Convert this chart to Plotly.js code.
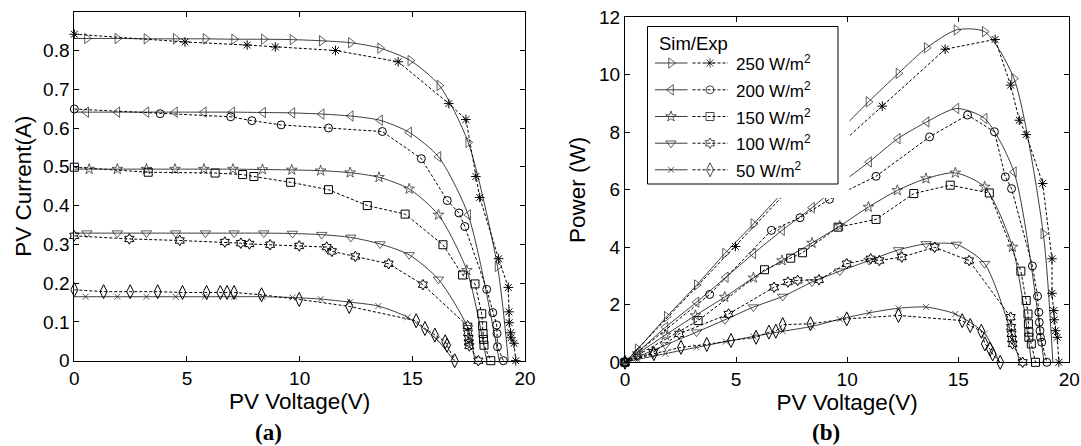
<!DOCTYPE html>
<html><head><meta charset="utf-8">
<script src="https://cdn.plot.ly/plotly-3.0.1.min.js"></script>
<style>html,body{margin:0;padding:0;background:#fff}#chart{width:1081px;height:446px}</style>
</head><body><div id="chart"></div>
<script>
// ---------- (a) I-V data ----------
const sim250_v = [0, 0.56, 1.91, 3.20, 4.50, 5.82, 7.09, 8.41, 9.68, 10.98, 12.27, 13.57, 14.91, 16.20, 17.48, 18.78, 19.26];
const sim250_i = [0.831, 0.831, 0.831, 0.830, 0.830, 0.830, 0.829, 0.829, 0.828, 0.825, 0.820, 0.806, 0.774, 0.710, 0.563, 0.243, 0];
const exp250_v = [0, 4.91, 7.67, 8.92, 11.59, 14.37, 16.62, 17.38, 17.82, 17.99, 18.83, 19.26, 19.29, 19.30, 19.36, 19.38, 19.51, 19.59];
const exp250_i = [0.842, 0.822, 0.814, 0.809, 0.800, 0.771, 0.663, 0.622, 0.475, 0.421, 0.263, 0.189, 0.126, 0.098, 0.072, 0.059, 0.045, 0];

const sim200_v = [0, 0.53, 1.91, 3.20, 4.47, 5.75, 7.01, 8.38, 9.68, 10.98, 12.27, 13.57, 14.86, 16.16, 17.48, 18.86];
const sim200_i = [0.641, 0.641, 0.641, 0.641, 0.641, 0.641, 0.641, 0.640, 0.639, 0.636, 0.631, 0.620, 0.589, 0.526, 0.376, 0];
const exp200_v = [0, 3.81, 6.94, 7.88, 9.18, 11.28, 13.67, 15.40, 16.55, 17.07, 17.33, 18.30, 18.57, 18.74, 18.76, 18.78, 19.04];
const exp200_i = [0.649, 0.637, 0.629, 0.619, 0.608, 0.600, 0.591, 0.521, 0.413, 0.381, 0.346, 0.184, 0.124, 0.092, 0.070, 0.036, 0];

const sim150_v = [0, 0.66, 1.91, 3.20, 4.47, 5.75, 7.04, 8.35, 9.65, 10.93, 12.24, 13.52, 14.86, 16.16, 17.42, 18.30];
const sim150_i = [0.494, 0.494, 0.494, 0.494, 0.494, 0.494, 0.494, 0.493, 0.492, 0.490, 0.485, 0.473, 0.443, 0.376, 0.233, 0];
const exp150_v = [0, 3.28, 6.25, 7.47, 7.97, 9.60, 11.28, 13.00, 14.68, 16.36, 17.23, 17.78, 18.08, 18.12, 18.14, 18.16, 18.18, 18.48];
const exp150_i = [0.499, 0.486, 0.484, 0.480, 0.475, 0.460, 0.441, 0.400, 0.378, 0.299, 0.221, 0.198, 0.121, 0.090, 0.070, 0.055, 0.040, 0];

const sim100_v = [0, 0.56, 1.91, 3.20, 4.50, 5.82, 7.09, 8.41, 9.68, 10.98, 12.27, 13.57, 14.86, 16.16, 17.46, 17.78];
const sim100_i = [0.329, 0.329, 0.329, 0.329, 0.329, 0.329, 0.329, 0.329, 0.328, 0.325, 0.318, 0.301, 0.273, 0.210, 0.085, 0];
const exp100_v = [0, 2.44, 4.68, 6.68, 7.39, 7.77, 8.69, 9.98, 11.20, 11.43, 12.47, 13.95, 15.47, 17.45, 17.47, 17.50, 17.51, 17.53, 17.93];
const exp100_i = [0.322, 0.314, 0.310, 0.306, 0.303, 0.301, 0.299, 0.296, 0.293, 0.282, 0.269, 0.250, 0.196, 0.090, 0.072, 0.058, 0.047, 0.038, 0];

const sim50_v = [0, 0.50, 1.91, 3.20, 4.50, 5.79, 7.09, 8.35, 9.68, 10.93, 12.24, 13.49, 14.79, 16.08, 16.85];
const sim50_i = [0.165, 0.165, 0.165, 0.165, 0.165, 0.165, 0.165, 0.165, 0.163, 0.159, 0.151, 0.141, 0.112, 0.055, 0];
const exp50_v = [0, 1.30, 2.48, 3.70, 4.80, 5.87, 6.48, 6.78, 7.09, 8.31, 9.98, 12.20, 15.17, 15.56, 16.00, 16.46, 16.54, 16.88];
const exp50_i = [0.183, 0.178, 0.178, 0.178, 0.176, 0.176, 0.176, 0.176, 0.176, 0.170, 0.158, 0.140, 0.103, 0.083, 0.066, 0.049, 0.040, 0];

// ---------- (b) P-V data ----------
const psim250_v = [0, 0.57, 1.88, 3.23, 4.50, 5.78, 7.09, 8.41, 9.68, 10.96, 12.31, 13.58, 14.92, 16.19, 17.51, 18.83, 19.26];
const psim250_p = [0, 0.46, 1.59, 2.69, 3.79, 4.81, 5.90, 7.00, 8.05, 9.06, 10.05, 10.94, 11.56, 11.50, 9.87, 4.47, 0];
const pexp250_v = [0, 4.97, 7.67, 8.92, 11.58, 14.41, 16.66, 17.36, 17.75, 18.06, 18.80, 19.22, 19.22, 19.30, 19.32, 19.38, 19.46, 19.53];
const pexp250_p = [0, 4.03, 6.25, 7.05, 8.91, 10.89, 11.23, 9.64, 8.42, 7.92, 6.22, 3.60, 2.40, 1.80, 1.48, 1.10, 0.87, 0];

const psim200_v = [0, 0.57, 1.82, 3.22, 4.54, 5.78, 7.07, 8.42, 9.68, 10.99, 12.28, 13.58, 14.92, 16.19, 17.51, 18.86];
const psim200_p = [0, 0.35, 1.22, 2.09, 2.96, 3.78, 4.59, 5.38, 6.20, 6.97, 7.78, 8.36, 8.83, 8.48, 6.62, 0];
const pexp200_v = [0, 3.81, 6.59, 7.88, 9.20, 11.30, 13.71, 15.42, 16.63, 17.12, 17.40, 18.34, 18.57, 18.63, 18.65, 18.68, 18.70, 18.76, 18.99];
const pexp200_p = [0, 2.36, 4.59, 5.03, 5.67, 6.47, 7.84, 8.60, 8.02, 6.45, 6.04, 3.35, 2.30, 1.74, 1.39, 1.10, 0.87, 0.70, 0];

const psim150_v = [0, 0.57, 1.82, 3.17, 4.49, 5.78, 7.07, 8.42, 9.67, 10.96, 12.26, 13.55, 14.87, 16.19, 17.44, 18.30];
const psim150_p = [0, 0.30, 0.95, 1.63, 2.27, 2.94, 3.54, 4.15, 4.74, 5.40, 5.98, 6.39, 6.59, 6.10, 4.01, 0];
const pexp150_v = [0, 3.29, 6.28, 7.46, 7.99, 9.59, 11.30, 13.00, 14.64, 16.40, 17.82, 18.06, 18.14, 18.16, 18.18, 18.18, 18.29, 18.48];
const pexp150_p = [0, 1.45, 3.22, 3.62, 3.81, 4.70, 4.97, 5.87, 6.16, 5.89, 3.17, 2.15, 1.68, 1.34, 1.05, 0.87, 0.64, 0];

const psim100_v = [0, 0.57, 1.82, 3.22, 4.50, 5.78, 7.10, 8.42, 9.67, 10.99, 12.31, 13.55, 14.92, 16.19, 17.78];
const psim100_p = [0, 0.19, 0.60, 1.05, 1.48, 1.92, 2.29, 2.79, 3.17, 3.54, 3.91, 4.12, 4.10, 3.43, 0];
const pexp100_v = [0, 1.27, 2.44, 4.66, 6.71, 7.33, 7.77, 8.73, 9.98, 11.06, 11.45, 12.46, 13.94, 15.49, 17.36, 17.38, 17.40, 17.42, 17.45, 17.90];
const pexp100_p = [0, 0.35, 0.99, 1.68, 2.61, 2.79, 2.85, 2.87, 3.43, 3.60, 3.54, 3.66, 4.00, 3.54, 1.57, 1.22, 0.99, 0.81, 0.64, 0];

const psim50_v = [0, 0.57, 1.82, 3.22, 4.54, 5.78, 7.10, 8.42, 9.67, 10.99, 12.31, 13.55, 14.87, 16.19, 16.85];
const psim50_p = [0, 0.10, 0.30, 0.52, 0.72, 0.90, 1.08, 1.25, 1.50, 1.72, 1.88, 1.92, 1.68, 1.00, 0];
const pexp50_v = [0, 1.30, 2.52, 3.68, 4.77, 5.90, 6.48, 6.79, 7.10, 8.35, 9.98, 12.31, 15.18, 15.54, 16.04, 16.20, 16.43, 16.55, 16.89];
const pexp50_p = [0, 0.30, 0.52, 0.62, 0.76, 0.87, 1.05, 1.08, 1.31, 1.34, 1.51, 1.63, 1.45, 1.28, 1.08, 0.64, 0.46, 0.29, 0];

// ---------- labels ----------
const irradiance = ['250 W/m<sup>2</sup>', '200 W/m<sup>2</sup>', '150 W/m<sup>2</sup>', '100 W/m<sup>2</sup>', '50 W/m<sup>2</sup>'];
const vTicks = [0, 5, 10, 15, 20];
const iTicks = [0, 0.1, 0.2, 0.3, 0.4, 0.5, 0.6, 0.7, 0.8];
const iTickText = ['0', '0.1', '0.2', '0.3', '0.4', '0.5', '0.6', '0.7', '0.8'];
const pTicks = [0, 2, 4, 6, 8, 10, 12];

// ---------- styling ----------
const W = 1081, H = 446;
const FONT = 'Liberation Sans, Arial, sans-serif';
const SIMC = '#3c3c3c', SIMM = '#1e1e1e', EXPC = '#000000';
const simSym = [['triangle-right-open', 9], ['triangle-left-open', 9], ['star-open', 8], ['triangle-down-open', 9], ['x-thin-open', 6]];
const expSym = [['asterisk-open', 8], ['circle-open', 8], ['square-open', 8], ['hexagram-open', 8], ['diamond-tall-open', 10]];

function simTrace(x, y, k, xa, ya) {
  const n = x.length;
  return {type: 'scatter', mode: 'lines+markers', x: x, y: y, xaxis: xa, yaxis: ya,
    line: {color: SIMC, width: 1, shape: 'spline', smoothing: 0.7},
    marker: {symbol: simSym[k][0], size: x.map((_, i) => (i === 0 || i === n - 1) ? 0 : simSym[k][1]), color: SIMM, line: {width: 1, color: SIMM}},
    cliponaxis: false, showlegend: false, hoverinfo: 'skip'};
}
function expTrace(x, y, k, xa, ya) {
  return {type: 'scatter', mode: 'lines+markers', x: x, y: y, xaxis: xa, yaxis: ya,
    line: {color: EXPC, width: 1, dash: '3px,2px'},
    marker: {symbol: expSym[k][0], size: expSym[k][1], color: EXPC, line: {width: 1, color: EXPC}},
    cliponaxis: false, showlegend: false, hoverinfo: 'skip'};
}

const simA = [[sim250_v, sim250_i], [sim200_v, sim200_i], [sim150_v, sim150_i], [sim100_v, sim100_i], [sim50_v, sim50_i]];
const expA = [[exp250_v, exp250_i], [exp200_v, exp200_i], [exp150_v, exp150_i], [exp100_v, exp100_i], [exp50_v, exp50_i]];
const simB = [[psim250_v, psim250_p], [psim200_v, psim200_p], [psim150_v, psim150_p], [psim100_v, psim100_p], [psim50_v, psim50_p]];
const expB = [[pexp250_v, pexp250_p], [pexp200_v, pexp200_p], [pexp150_v, pexp150_p], [pexp100_v, pexp100_p], [pexp50_v, pexp50_p]];

const traces = [];
for (let k = 0; k < 5; k++) {
  traces.push(simTrace(simA[k][0], simA[k][1], k, 'x', 'y'));
  traces.push(expTrace(expA[k][0], expA[k][1], k, 'x', 'y'));
  traces.push(simTrace(simB[k][0], simB[k][1], k, 'x2', 'y2'));
  traces.push(expTrace(expB[k][0], expB[k][1], k, 'x2', 'y2'));
}

// legend drawn in a pixel-scaled overlay subplot (x3/y3)
const LX0 = 640, LX1 = 852, LY0 = 20, LY1 = 200;
const rowY = [63, 89.8, 116.5, 143.2, 169.8];
const annotations = [];
for (let k = 0; k < 5; k++) {
  const ry = rowY[k];
  traces.push({type: 'scatter', mode: 'lines+markers', x: [655, 671, 687.5], y: [ry, ry, ry], xaxis: 'x3', yaxis: 'y3',
    line: {color: SIMC, width: 1}, marker: {symbol: simSym[k][0], size: [0, simSym[k][1], 0], color: SIMM, line: {width: 1, color: SIMM}},
    showlegend: false, hoverinfo: 'skip', cliponaxis: false});
  traces.push({type: 'scatter', mode: 'lines+markers', x: [692.5, 710, 728], y: [ry, ry, ry], xaxis: 'x3', yaxis: 'y3',
    line: {color: EXPC, width: 1, dash: '3px,2px'}, marker: {symbol: expSym[k][0], size: [0, expSym[k][1], 0], color: EXPC, line: {width: 1, color: EXPC}},
    showlegend: false, hoverinfo: 'skip', cliponaxis: false});
  annotations.push({xref: 'x3', yref: 'y3', x: 734, y: ry, xanchor: 'left', yanchor: 'middle', showarrow: false,
    text: irradiance[k], font: {family: FONT, size: 17, color: '#000'}});
}
annotations.push({xref: 'x3', yref: 'y3', x: 657, y: 43.5, xanchor: 'left', yanchor: 'middle', showarrow: false,
  text: 'Sim/Exp', font: {family: FONT, size: 18.5, color: '#000'}});
annotations.push({xref: 'paper', yref: 'paper', x: 268 / W, y: 1 - 432 / H, xanchor: 'center', yanchor: 'middle', showarrow: false,
  text: '<b>(a)</b>', font: {family: 'Liberation Serif, serif', size: 23, color: '#000'}});
annotations.push({xref: 'paper', yref: 'paper', x: 826 / W, y: 1 - 432 / H, xanchor: 'center', yanchor: 'middle', showarrow: false,
  text: '<b>(b)</b>', font: {family: 'Liberation Serif, serif', size: 23, color: '#000'}});

const axBase = {showgrid: false, zeroline: false, showline: true, linecolor: '#000', linewidth: 1, mirror: 'ticks',
  ticks: 'inside', ticklen: 5, tickwidth: 1, tickcolor: '#000', fixedrange: true,
  tickfont: {family: FONT, size: 19, color: '#000'}};
const titleFont = {family: FONT, size: 22.5, color: '#000'};

const layout = {
  width: W, height: H, margin: {l: 0, r: 0, t: 0, b: 0}, paper_bgcolor: '#fff', plot_bgcolor: 'rgba(0,0,0,0)',
  showlegend: false,
  xaxis: Object.assign({}, axBase, {domain: [74.3 / W, 525 / W], range: [0, 20], tickvals: vTicks, anchor: 'y',
    title: {text: 'PV Voltage(V)', font: titleFont, standoff: 1}}),
  yaxis: Object.assign({}, axBase, {domain: [1 - 360.7 / H, 1 - 11.7 / H], range: [0, 0.9], tickvals: iTicks, ticktext: iTickText, anchor: 'x',
    title: {text: 'PV Current(A)', font: titleFont, standoff: 5}}),
  xaxis2: Object.assign({}, axBase, {domain: [625 / W, 1069.3 / W], range: [0, 20], tickvals: vTicks, anchor: 'y2',
    title: {text: 'PV Voltage(V)', font: titleFont, standoff: 1}}),
  yaxis2: Object.assign({}, axBase, {domain: [1 - 362.3 / H, 1 - 17.3 / H], range: [0, 12], tickvals: pTicks, anchor: 'x2',
    title: {text: 'Power (W)', font: titleFont, standoff: 7}}),
  xaxis3: {domain: [LX0 / W, LX1 / W], range: [LX0, LX1], visible: false, anchor: 'y3', fixedrange: true},
  yaxis3: {domain: [1 - LY1 / H, 1 - LY0 / H], range: [LY1, LY0], visible: false, anchor: 'x3', fixedrange: true},
  shapes: [
    {type: 'rect', xref: 'x3', yref: 'y3', x0: 641, x1: 849.4, y0: 24, y1: 197.9, fillcolor: '#fff', line: {width: 0}, layer: 'below'},
    {type: 'rect', xref: 'x3', yref: 'y3', x0: 647.5, x1: 838, y0: 26.5, y1: 184, fillcolor: '#fff', line: {color: '#000', width: 1}, layer: 'below'}
  ],
  annotations: annotations
};

Plotly.newPlot('chart', traces, layout, {staticPlot: true, displayModeBar: false});
</script>
</body></html>
